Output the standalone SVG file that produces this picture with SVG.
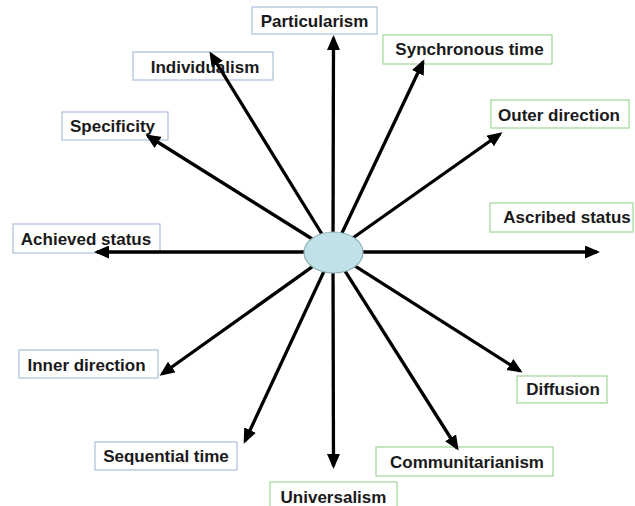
<svg xmlns="http://www.w3.org/2000/svg" width="635" height="506" viewBox="0 0 635 506">
<style>
.box{fill:#ffffff;stroke-width:1.3}
.b{stroke:#b3c3de}
.g{stroke:#a6d99e}
.t{font-family:"Liberation Sans",Arial,sans-serif;font-weight:bold;font-size:17px;fill:#1a1a1a;text-anchor:middle}
.c line{stroke:#000;stroke-width:3.3;marker-end:url(#ah)}
</style>
<defs>
<marker id="ah" markerUnits="userSpaceOnUse" markerWidth="15" markerHeight="13" refX="12" refY="6.5" orient="auto">
<path d="M0,0 L15,6.5 L0,13 Z" fill="#000"/>
</marker>
</defs>
<rect width="635" height="506" fill="#ffffff"/>
<g id="n-particularism"><rect class="box b" x="252" y="7" width="125" height="27"/><text class="t" x="314.5" y="27">Particularism</text></g>
<g id="n-individualism"><rect class="box b" x="133" y="52" width="140" height="28"/><text class="t" x="205" y="73">Individualism</text></g>
<g id="n-specificity"><rect class="box b" x="62" y="112" width="106" height="28"/><text class="t" x="112.5" y="132">Specificity</text></g>
<g id="n-synchronous"><rect class="box g" x="383" y="35" width="169" height="29"/><text class="t" x="469.5" y="55">Synchronous time</text></g>
<g id="n-outer"><rect class="box g" x="491" y="100" width="138" height="28"/><text class="t" x="559" y="120.5">Outer direction</text></g>
<g id="n-achieved"><rect class="box b" x="13" y="224" width="147" height="29"/><text class="t" x="86" y="245">Achieved status</text></g>
<g id="n-ascribed"><rect class="box g" x="490" y="203" width="143" height="29"/><text class="t" x="567" y="223">Ascribed status</text></g>
<g id="n-inner"><rect class="box b" x="19" y="350" width="139" height="28"/><text class="t" x="86.5" y="371">Inner direction</text></g>
<g id="n-sequential"><rect class="box b" x="95" y="442" width="142" height="28"/><text class="t" x="166" y="462">Sequential time</text></g>
<g id="n-universalism"><rect class="box g" x="270" y="482" width="127" height="30"/><text class="t" x="333.5" y="503">Universalism</text></g>
<g id="n-communitarianism"><rect class="box g" x="376" y="447" width="177" height="29"/><text class="t" x="467" y="467.5">Communitarianism</text></g>
<g id="n-diffusion"><rect class="box g" x="517" y="376" width="90" height="27"/><text class="t" x="563" y="395">Diffusion</text></g>
<g id="connectors" class="c">
<line x1="333" y1="252" x2="333.5" y2="38"/>
<line x1="333" y1="252" x2="211" y2="54"/>
<line x1="333" y1="252" x2="148" y2="136"/>
<line x1="333" y1="252" x2="423" y2="62"/>
<line x1="333" y1="252" x2="500" y2="134"/>
<line x1="333" y1="252" x2="97" y2="252"/>
<line x1="333" y1="252" x2="597" y2="252"/>
<line x1="333" y1="252" x2="162" y2="374"/>
<line x1="333" y1="252" x2="245" y2="441"/>
<line x1="333" y1="252" x2="333.5" y2="466"/>
<line x1="333" y1="252" x2="457" y2="448"/>
<line x1="333" y1="252" x2="520" y2="371"/>
</g>
<g id="n-center"><ellipse cx="333.5" cy="252.5" rx="29.5" ry="20.5" fill="#bfe1e7" stroke="#8fb0b4" stroke-width="1.2"/></g>
</svg>
